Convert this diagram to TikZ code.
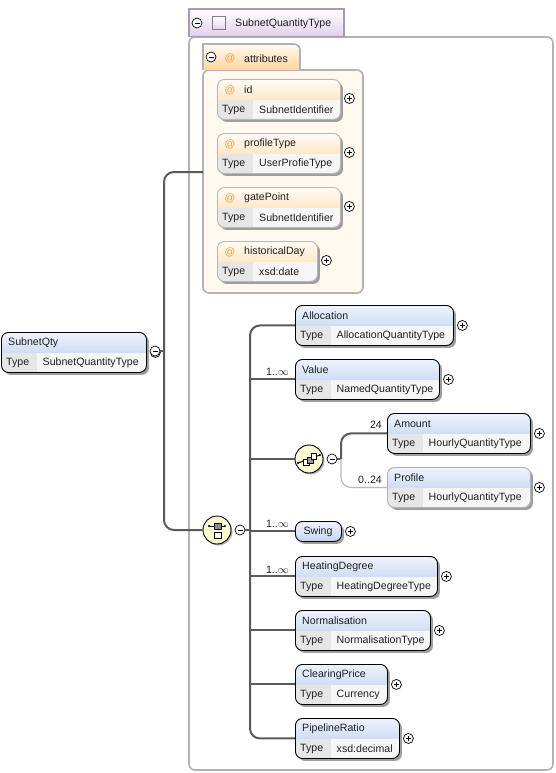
\documentclass[tikz,border=0pt]{standalone}
\usepackage{fontspec}
\setmainfont{Liberation Sans}
\usetikzlibrary{calc,shadows}

\definecolor{hdrtop}{HTML}{EEF3FC}
\definecolor{hdrbot}{HTML}{B0C8EE}
\definecolor{attrtop}{HTML}{FFFBF4}
\definecolor{attrbot}{HTML}{FFD49C}
\definecolor{attrpale}{HTML}{FFF9F0}
\definecolor{tabbot}{HTML}{E0CEEC}
\definecolor{typecell}{HTML}{E6E6E6}
\definecolor{valcell}{HTML}{F6F6F6}
\definecolor{grpfill}{HTML}{FFFBD2}
\definecolor{txt}{HTML}{202020}
\definecolor{atcol}{HTML}{EFA23A}
\definecolor{conn}{HTML}{5A5A5A}

\tikzset{
  lbl/.style={inner sep=0pt,text=txt,font=\fontsize{10.6}{12}\selectfont},
  elembody/.style n args={2}{rectangle,rounded corners=7pt,inner sep=0pt,anchor=north west,
    minimum height=40pt,fill=white,line width=.9pt,
    drop shadow={shadow xshift=2.5pt,shadow yshift=-2.5pt,fill=black!38,opacity=1},
    path picture={
      \shade[sharp corners,top color=#1,bottom color=#2] (path picture bounding box.north west) rectangle ([yshift=-20pt]path picture bounding box.north east);
      \fill[sharp corners,valcell] ([yshift=-21pt]path picture bounding box.north west) rectangle (path picture bounding box.south east);
      \fill[sharp corners,typecell] ([yshift=-21pt]path picture bounding box.north west) rectangle ([xshift=36pt]path picture bounding box.south west);
    }},
  elemblue/.style={elembody={hdrtop}{hdrbot},draw=black},
  elemopt/.style={elembody={hdrtop}{hdrbot},draw=black!30},
  elemattr/.style={elembody={attrtop}{attrbot},draw=black!28},
  btn/.style={circle,draw=black,fill=white,line width=.7pt,minimum size=10pt,inner sep=0pt},
  plusbtn/.style={btn,path picture={
      \draw[line width=.6pt] ([xshift=-2.5pt]path picture bounding box.center) -- ([xshift=2.5pt]path picture bounding box.center);
      \draw[line width=.6pt] ([yshift=-2.5pt]path picture bounding box.center) -- ([yshift=2.5pt]path picture bounding box.center);}},
  minusbtn/.style={btn,path picture={
      \draw[line width=.6pt] ([xshift=-2.5pt]path picture bounding box.center) -- ([xshift=2.5pt]path picture bounding box.center);}},
  grpnode/.style={circle,draw=black,fill=grpfill,line width=.9pt,minimum size=28pt,inner sep=0pt,
    drop shadow={shadow xshift=1.5pt,shadow yshift=-1.5pt,fill=black!30,opacity=1}},
  wire/.style={draw=conn,line width=2pt},
  wirepale/.style={draw=black!28,line width=1.1pt},
  occ/.style={lbl,anchor=east},
  groupborder/.style={draw=black!30,line width=1.6pt},
}

% name, x, y, width, title, type, box style
\newcommand{\elem}[7]{
  \node[#7,minimum width=#4pt] (#1) at (#2,#3) {};
  \node[lbl,anchor=west] (#1-title) at ($(#2,#3)+(7,11)$) {#5};
  \node[lbl,anchor=west] (#1-key) at ($(#2,#3)+(5,31)$) {Type};
  \node[lbl,anchor=west] (#1-val) at ($(#2,#3)+(41.5,31)$) {#6};
  \node[plusbtn] (#1-plus) at ($(#1.east)+(8.5,0)$) {};
}
\newcommand{\attrib}[5]{
  \node[elemattr,minimum width=#3pt] (#1) at (217,#2) {};
  \node[lbl,text=atcol,anchor=center] (#1-at) at ($(217,#2)+(13,11)$) {@};
  \node[lbl,anchor=west] (#1-title) at ($(217,#2)+(27,11)$) {#4};
  \node[lbl,anchor=west] (#1-key) at ($(217,#2)+(5,31)$) {Type};
  \node[lbl,anchor=west] (#1-val) at ($(217,#2)+(42,31)$) {#5};
  \node[plusbtn] (#1-plus) at ($(#1.east)+(8.5,-1)$) {};
}

\begin{document}
\begin{tikzpicture}[x=1pt,y=-1pt]
  \useasboundingbox[fill=white] (0,0) rectangle (555,773);

  % complex type frame
  \draw[groupborder,fill=white,rounded corners=6pt] (189,37) -- (553,37) -- (553,770) -- (189,770) -- cycle;
  \shade[top color=white,bottom color=tabbot] (189,9) rectangle (344,37);
  \draw[draw=black!25!tabbot,line width=1.6pt] (189,37) -- (189,9) -- (344,9) -- (344,37);
  \draw[black!25!tabbot,line width=1pt] (189,37) -- (344,37);
  \node[minusbtn] (typeminus) at (197,23) {};
  \node[rectangle,draw=black!40!tabbot,line width=1pt,top color=white,bottom color=tabbot,minimum size=13pt,inner sep=0pt] (typeicon) at (218.5,23.5) {};
  \node[lbl,anchor=west] (typename) at (235,24) {SubnetQuantityType};

  % attributes group
  \draw[groupborder,fill=attrpale,rounded corners=6pt] (203,70) -- (363,70) -- (363,293) -- (203,293) -- cycle;
  \fill[top color=attrtop,bottom color=attrbot] (203,44) -- (294,44) to[out=0,in=90] (300,50) -- (300,70) -- (203,70) -- cycle;
  \draw[groupborder] (203,70) -- (203,44) -- (294,44) to[out=0,in=90] (300,50) -- (300,70);
  \node[minusbtn] (attrminus) at (211,57) {};
  \node[lbl,text=atcol] (attrat) at (230,58) {@};
  \node[lbl,anchor=west] (attrname) at (244,58.5) {attributes};
  \coordinate (attrjoin) at (203,172);

  \attrib{id}{79}{123}{id}{SubnetIdentifier}
  \attrib{profile}{133}{123}{profileType}{UserProfieType}
  \attrib{gate}{187}{123}{gatePoint}{SubnetIdentifier}
  \attrib{histday}{241}{100}{historicalDay}{xsd:date}

  % elements
  \elem{root}{1}{332}{145}{SubnetQty}{SubnetQuantityType}{elemblue}
  \elem{alloc}{295}{305}{158}{Allocation}{AllocationQuantityType}{elemblue}
  \elem{value}{295}{359}{144}{Value}{NamedQuantityType}{elemblue}
  \elem{amount}{387}{413}{143}{Amount}{HourlyQuantityType}{elemblue}
  \elem{prof}{387}{467}{143}{Profile}{HourlyQuantityType}{elemopt}
  \elem{heat}{295}{556}{142}{HeatingDegree}{HeatingDegreeType}{elemblue}
  \elem{norm}{295}{610}{135}{Normalisation}{NormalisationType}{elemblue}
  \elem{price}{295}{664}{92}{ClearingPrice}{Currency}{elemblue}
  \elem{ratio}{295}{718}{104}{PipelineRatio}{xsd:decimal}{elemblue}

  \node[elemblue,minimum width=46pt,minimum height=20pt,top color=hdrtop,bottom color=hdrbot!75,path picture={}] (swing) at (295,521) {};
  \node[lbl] (swing-title) at (318,531.5) {Swing};
  \node[plusbtn] (swing-plus) at ($(swing.east)+(8.5,0)$) {};

  % compositors
  \node[minusbtn] (rootminus) at (155,351) {};
  \node[grpnode] (seq) at (217,530) {};
  \node[minusbtn] (seqminus) at (240,530) {};
  \node[grpnode] (all) at (309,459) {};
  \node[minusbtn] (allminus) at (332,459) {};
  \coordinate (rootout) at (164,351);
  \coordinate (seqout) at (250,530);
  \coordinate (allout) at (341,459);

  % compositor icons
  \draw[line width=.9pt] (209,526) -- (225,526);
  \fill (209,526) circle(1.2pt) (225,526) circle(1.2pt);
  \draw[fill=black!45,line width=.6pt] (214,523) rectangle (221,529);
  \draw[fill=white,line width=.8pt] (214,532) rectangle (221,538);
  \draw[line width=1pt] (298,463) -- (320,455);
  \fill (298,463) circle(1.2pt) (320,455) circle(1.2pt);
  \draw[fill=white,line width=.7pt] (303,459) rectangle (309,465);
  \draw[fill=black!40,line width=.7pt] (307,457) rectangle (313,463);
  \draw[fill=white,line width=.7pt] (311,453) rectangle (316,459);

  % connectors
  \draw[wire] (rootminus) -- (rootout);
  \draw[wire,rounded corners=10pt] (attrjoin) -| (rootout) |- (seq.west);
  \draw[wire] (seqminus) -- (seqout);
  \draw[wire,rounded corners=10pt] (alloc.west) -| (seqout) |- (ratio.west);
  \foreach \child in {value,swing,heat,norm,price}
    \draw[wire] (\child.west) -- (\child.west -| seqout);
  \draw[wire] (all.west) -- (all.west -| seqout);
  \draw[wire] (allminus) -- (allout);
  \draw[wire,rounded corners=10pt] (amount.west) -| (allout);
  \draw[wirepale,rounded corners=10pt] (prof.west) -| (allout);

  % occurrences
  \node[occ] (valueocc) at (289,371.5) {1..$\infty$};
  \node[occ] (swingocc) at (289,523.5) {1..$\infty$};
  \node[occ] (heatocc) at (289,569.5) {1..$\infty$};
  \node[occ] (amountocc) at (382,424.5) {24};
  \node[occ] (profocc) at (382,479.5) {0..24};
\end{tikzpicture}
\end{document}
